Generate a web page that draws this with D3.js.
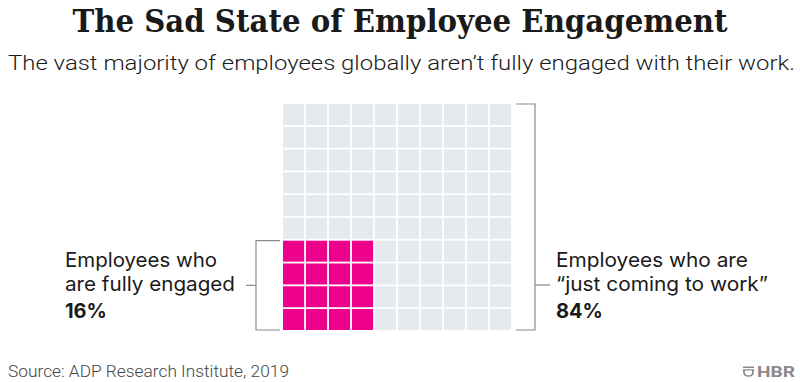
<!DOCTYPE html>
<html>
<head>
<meta charset="utf-8">
<script src="https://cdn.jsdelivr.net/npm/d3@7"></script>
<style>
  body { margin: 0; background: #fff; }
  svg { display: block; }
</style>
</head>
<body>
<div id="chart"></div>
<script>
// Data
const categories = ["Employees who are fully engaged", "Employees who are \u201cjust coming to work\u201d"];
const shares = [16, 84];
const gridSize = 10;

const width = 800, height = 382;
const svg = d3.select("#chart").append("svg")
    .attr("width", width)
    .attr("height", height);

// Title & subtitle
svg.append("text")
    .attr("x", 400).attr("y", 32)
    .attr("text-anchor", "middle")
    .attr("font-family", "'DejaVu Serif Condensed', 'DejaVu Serif', serif")
    .attr("font-weight", "bold")
    .attr("font-size", 31)
    .attr("fill", "#1a1a1a")
    .attr("textLength", 655)
    .attr("lengthAdjust", "spacingAndGlyphs")
    .text("The Sad State of Employee Engagement");

svg.append("text")
    .attr("x", 8).attr("y", 70)
    .attr("font-family", "Roboto, sans-serif")
    .attr("font-weight", 300)
    .attr("font-size", 21)
    .attr("fill", "#1a1a1a")
    .attr("textLength", 787)
    .attr("lengthAdjust", "spacingAndGlyphs")
    .text("The vast majority of employees globally aren\u2019t fully engaged with their work.");

// Waffle scales
const idx = d3.range(gridSize);
const x = d3.scaleBand().domain(idx).range([283, 511]).paddingInner(0.08);
const y = d3.scaleBand().domain(idx).range([104, 330]).paddingInner(0.08);

// Highlighted block: square in bottom-left corner
const side = Math.round(Math.sqrt(shares[0]));
const cells = d3.range(gridSize * gridSize).map(i => {
    const col = i % gridSize, row = Math.floor(i / gridSize);
    return { col, row, hi: col < side && row >= gridSize - side };
});

svg.append("g").selectAll("rect")
    .data(cells)
    .join("rect")
    .attr("x", d => x(d.col))
    .attr("y", d => y(d.row))
    .attr("width", x.bandwidth())
    .attr("height", y.bandwidth())
    .attr("fill", d => d.hi ? "#ec008c" : "#e6eaef");

// Brackets
const bracket = "#8a8a8a";
const topHi = y(gridSize - side);
const bottom = y(gridSize - 1) + y.bandwidth();
const leftX = 256;
svg.append("path")
    .attr("d", `M${x(0) - 3},${topHi} H${leftX} V${bottom} H${x(0) - 3}`)
    .attr("fill", "none").attr("stroke", bracket).attr("stroke-width", 1.2);
svg.append("line")
    .attr("x1", 246).attr("x2", leftX)
    .attr("y1", (topHi + bottom) / 2).attr("y2", (topHi + bottom) / 2)
    .attr("stroke", bracket).attr("stroke-width", 1.2);

const rightX = 535;
const topAll = y(0);
const gridRight = x(gridSize - 1) + x.bandwidth();
svg.append("path")
    .attr("d", `M${gridRight + 5},${topAll} H${rightX} V${bottom} H${gridRight + 5}`)
    .attr("fill", "none").attr("stroke", bracket).attr("stroke-width", 1.2);
svg.append("line")
    .attr("x1", rightX).attr("x2", 550)
    .attr("y1", 285).attr("y2", 285)
    .attr("stroke", bracket).attr("stroke-width", 1.2);

// Labels
function label(xPos, lines, pct, lengths) {
    const g = svg.append("g").attr("font-family", "Inter, Roboto, sans-serif").attr("fill", "#1a1a1a");
    lines.forEach((t, i) => {
        g.append("text").attr("x", xPos).attr("y", 267 + i * 24)
            .attr("font-size", 20)
            .attr("textLength", lengths[i]).attr("lengthAdjust", "spacingAndGlyphs")
            .text(t);
    });
    g.append("text").attr("x", xPos).attr("y", 318)
        .attr("font-size", 20).attr("font-weight", "bold")
        .text(pct + "%");
}
label(65, ["Employees who", "are fully engaged"], shares[0], [152, 170]);
label(556, ["Employees who are", "\u201cjust coming to work\u201d"], shares[1], [192, 212]);

// Footer
svg.append("text")
    .attr("x", 8).attr("y", 377)
    .attr("font-family", "Roboto, sans-serif")
    .attr("font-weight", 300)
    .attr("font-size", 16)
    .attr("fill", "#444")
    .attr("textLength", 281)
    .attr("lengthAdjust", "spacingAndGlyphs")
    .text("Source: ADP Research Institute, 2019");

const logo = svg.append("g").attr("fill", "#8a8a8a");
logo.append("path")
    .attr("d", "M743,366.5 h11 v1.6 h-11 z M743,369.2 h11 v2 q0,5.5 -5.5,5.5 q-5.5,0 -5.5,-5.5 z M744.8,370.6 v0.8 q0,3.9 3.7,3.9 q3.7,0 3.7,-3.9 v-0.8 z")
    .attr("fill-rule", "evenodd");
logo.append("text")
    .attr("x", 757).attr("y", 377)
    .attr("font-family", "Roboto, sans-serif")
    .attr("font-weight", "bold")
    .attr("font-size", 14)
    .attr("textLength", 38)
    .attr("lengthAdjust", "spacingAndGlyphs")
    .text("HBR");
</script>
</body>
</html>
